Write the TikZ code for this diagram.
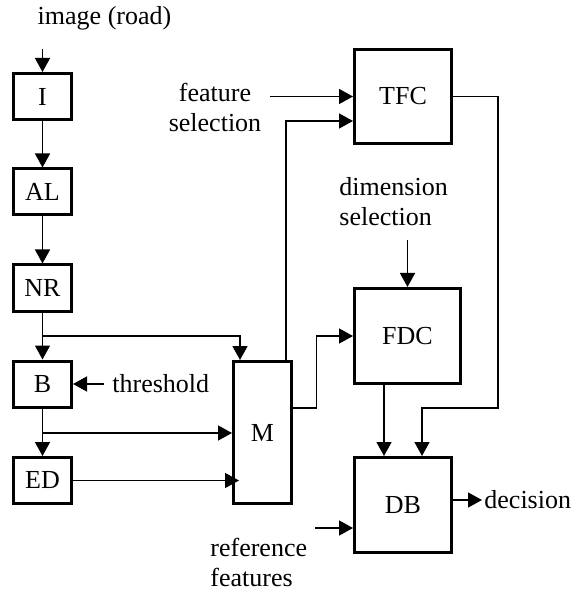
\documentclass[tikz,border=0pt]{standalone}
\usepackage{fontspec}
\setmainfont{Liberation Serif}
\usetikzlibrary{arrows.meta, positioning, calc}

\begin{document}
\begin{tikzpicture}[
    x=0.5pt, y=-0.5pt,
    font=\fontsize{13}{15}\selectfont,
    blk/.style={draw, line width=1.5pt, inner sep=0, minimum width=29pt, minimum height=23pt},
    lbl/.style={inner sep=4pt},
    wire/.style={draw, line width=0.7pt},
    >={Triangle[length=7pt,width=7.5pt]}
]
\useasboundingbox (0,0) rectangle (573,592);

% blocks
\node[blk] (I)  at (42.5,96.5) {I};
\node[blk] (AL) at (42.5,192) {AL};
\node[blk] (NR) at (42.5,288) {NR};
\node[blk] (B)  at (42.5,384) {B};
\node[blk] (ED) at (42.5,480.5) {ED};
\node[blk, minimum height=71pt] (M) at (262.5,432.5) {M};
\node[blk, minimum width=48.5pt, minimum height=47pt] (TFC) at (403,96.5) {TFC};
\node[blk, minimum width=53pt, minimum height=47.5pt] (FDC) at (407.5,336) {FDC};
\node[blk, minimum width=48.5pt, minimum height=47.5pt] (DB) at (403,505) {DB};

% inputs and outputs
\node[lbl] (img) at (104.5,18) {image (road)};
\node[lbl, align=center] (fs) at (215,107) {feature\\selection};
\node[lbl, anchor=west] (thr) at (104,384) {threshold};
\node[lbl, anchor=west, align=left] (ds) at (331,202) {dimension\\selection};
\node[lbl, anchor=west, align=left] (rf) at (202,562) {reference\\features};
\node[lbl, anchor=west, inner sep=1pt] (dec) at (482,500) {decision};

\coordinate (imgin) at (42.5,49);
\coordinate (nrbr) at (42.5,336);
\coordinate (bbr) at (42.5,433);
\coordinate (dsin) at (407.5,240);
\coordinate (rfin) at (315,528);

\draw[wire,->] (imgin) -- (I);
\draw[wire,->] (I) -- (AL);
\draw[wire,->] (AL) -- (NR);
\draw[wire,->] (NR) -- (B);
\draw[wire,->] (nrbr) -| ($(M.north west)+(8,0)$);
\draw[wire,->] (thr.west) -- (B.east);
\draw[wire,->] (B) -- (ED);
\draw[wire,->] (bbr) -- (bbr -| M.west);
\draw[wire,->] (ED.east) -- ($(ED.east -| M.west)+(7,0)$);
\draw[wire,->] ($(M.north east)+(-7,0)$) |- ($(TFC.west)+(0,24.5)$);
\draw[wire,->] (fs.east |- TFC.west) -- (TFC.west);
\draw[wire,->] ($(M.east)+(0,-24.5)$) -- ++(23.5,0) |- (FDC.west);
\draw[wire,->] (dsin) -- (FDC.north);
\draw[wire,->] ($(FDC.south west)+(31,0)$) -- ($(DB.north west)+(31,0)$);
\draw[wire,->] (TFC.east) -| (498,408) -| ($(DB.north west)+(69,0)$);
\draw[wire,->] (rfin) -- (rfin -| DB.west);
\draw[wire,->] ($(DB.east)+(0,-5)$) -- (dec.west);
\end{tikzpicture}
\end{document}
